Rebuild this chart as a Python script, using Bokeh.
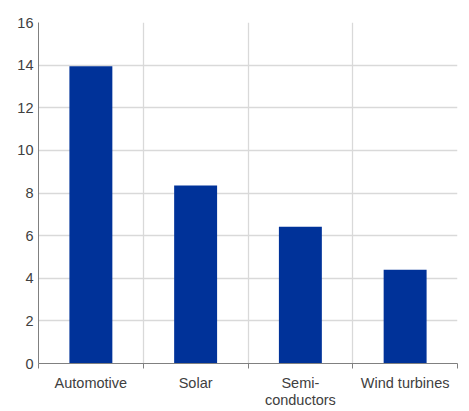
from bokeh.plotting import figure
from bokeh.models import FixedTicker, Range1d, ColumnDataSource
from bokeh.embed import file_html
from bokeh.resources import INLINE

categories = ["Automotive", "Solar", "Semi-\nconductors", "Wind turbines"]
values = [13.95, 8.35, 6.42, 4.4]
y_ticks = [0, 2, 4, 6, 8, 10, 12, 14, 16]

xpos = [i + 0.5 for i in range(len(categories))]
src = ColumnDataSource(dict(x=xpos, top=values))

p = figure(width=465, height=411, output_backend="svg", toolbar_location=None,
           x_range=Range1d(0, len(categories)), y_range=Range1d(0, 16),
           min_border_left=38, min_border_right=8, min_border_top=22, min_border_bottom=10)
p.outline_line_color = None
p.background_fill_color = "white"
p.border_fill_color = "white"

p.vbar(x="x", top="top", width=0.41, bottom=0, source=src,
       fill_color="#003299", line_color=None)

TEXT = "#404040"
FONT = "Liberation Sans"

# x axis
p.xaxis.ticker = FixedTicker(ticks=xpos, minor_ticks=list(range(len(categories) + 1)))
p.xaxis.major_label_overrides = {x: c for x, c in zip(xpos, categories)}
p.xaxis.major_tick_out = 0
p.xaxis.major_tick_in = 0
p.xaxis.minor_tick_out = 5
p.xaxis.minor_tick_in = 0
p.xaxis.minor_tick_line_color = "#808080"
p.xaxis.axis_line_color = "#808080"
p.xaxis.major_label_standoff = 6
p.xaxis.major_label_text_font = FONT
p.xaxis.major_label_text_font_size = "14.5px"
p.xaxis.major_label_text_line_height = 1.1
p.xaxis.major_label_text_color = TEXT

# y axis
p.yaxis.ticker = FixedTicker(ticks=y_ticks)
p.yaxis.major_tick_out = 0
p.yaxis.major_tick_in = 0
p.yaxis.minor_tick_out = 0
p.yaxis.minor_tick_in = 0
p.yaxis.axis_line_color = "#808080"
p.yaxis.major_label_standoff = 5
p.yaxis.major_label_text_font = FONT
p.yaxis.major_label_text_font_size = "14.5px"
p.yaxis.major_label_text_color = TEXT

# grids
p.xgrid.ticker = FixedTicker(ticks=list(range(1, len(categories) + 1)))
p.ygrid.ticker = FixedTicker(ticks=y_ticks[1:])
p.xgrid.grid_line_color = "#d9d9d9"
p.ygrid.grid_line_color = "#d9d9d9"
p.xgrid.grid_line_width = 1.3
p.ygrid.grid_line_width = 1.3

open("out.html", "w").write(file_html(p, INLINE))
